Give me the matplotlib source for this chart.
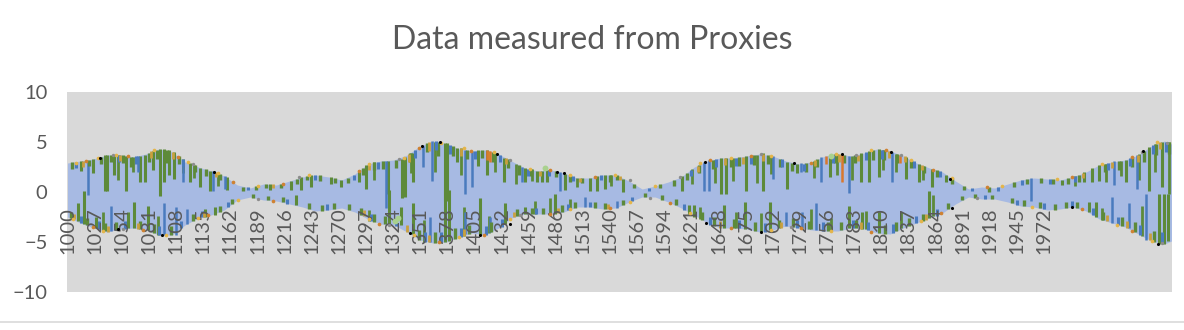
import matplotlib
matplotlib.use("Agg")
import matplotlib.pyplot as plt
from matplotlib.lines import Line2D

plt.rcParams['font.family'] = ['Lato', 'DejaVu Sans']

# envelope of all proxy series (upper / lower)
env_year = [1000, 1013, 1026, 1039, 1052, 1065, 1078, 1091, 1104, 1117, 1130, 1143,
            1156, 1169, 1182, 1195, 1208, 1221, 1234, 1247, 1260, 1273, 1286, 1299,
            1312, 1325, 1338, 1351, 1364, 1377, 1390, 1403, 1416, 1429, 1442, 1455,
            1468, 1481, 1494, 1507, 1520, 1533, 1546, 1559, 1572, 1585, 1598, 1611,
            1624, 1637, 1650, 1663, 1676, 1689, 1702, 1715, 1728, 1741, 1754, 1767,
            1780, 1793, 1806, 1819, 1832, 1845, 1858, 1871, 1884, 1897, 1910, 1923,
            1936, 1949, 1962, 1975, 1988, 2001, 2014, 2027, 2040, 2053, 2066, 2079,
            2092, 2099]
env_upper = [2.9, 3.1, 3.3, 3.7, 3.7, 3.5, 3.8, 4.3, 4.0, 3.0, 2.5, 2.1,
             1.6, 0.7, 0.4, 0.8, 0.7, 1.1, 1.5, 1.7, 1.5, 1.2, 1.8, 2.8,
             3.1, 3.2, 3.7, 4.6, 5.1, 4.8, 4.3, 4.1, 4.2, 3.8, 3.1, 2.4,
             2.1, 2.2, 1.9, 1.4, 1.4, 1.7, 1.7, 1.1, 0.3, 0.6, 1.0, 1.5,
             2.5, 3.1, 3.4, 3.4, 3.6, 3.8, 3.6, 3.1, 2.8, 3.0, 3.6, 3.8,
             3.6, 3.9, 4.3, 4.1, 3.6, 2.9, 2.4, 2.0, 1.1, 0.3, 0.5, 0.4,
             0.8, 1.2, 1.4, 1.3, 1.2, 1.5, 2.0, 2.7, 3.0, 3.2, 3.7, 4.6,
             5.1, 4.8]
env_lower = [-2.5, -3.1, -3.6, -4.0, -3.7, -3.6, -3.8, -4.3, -4.3, -3.3, -2.6, -2.3,
             -1.8, -0.8, -0.5, -0.8, -0.9, -1.2, -1.5, -1.9, -1.8, -1.6, -2.0, -2.7,
             -3.2, -3.3, -4.0, -4.8, -5.1, -5.0, -4.5, -4.1, -4.3, -3.6, -2.6, -2.2,
             -2.2, -2.2, -2.0, -1.5, -1.5, -1.7, -1.6, -1.0, -0.5, -0.5, -1.0, -1.6,
             -2.3, -3.1, -3.6, -3.6, -3.7, -4.0, -3.8, -3.4, -3.6, -3.8, -3.9, -3.9,
             -3.6, -3.7, -4.1, -4.2, -3.6, -3.1, -2.6, -2.1, -1.2, -0.5, -0.7, -0.7,
             -1.0, -1.4, -1.5, -1.8, -1.7, -1.5, -1.9, -2.7, -3.1, -3.5, -4.2, -4.9,
             -5.2, -4.9]

# long green proxy streaks: year, from, to
green_x = [1013, 1025, 1037, 1039, 1046, 1058, 1072, 1077, 1085, 1092, 1096, 1101,
           1106, 1122, 1132, 1142, 1159, 1202, 1222, 1232, 1242, 1262, 1272, 1290,
           1297, 1319, 1333, 1336, 1344, 1376, 1378, 1388, 1409, 1418, 1435, 1455,
           1467, 1472, 1477, 1495, 1520, 1527, 1535, 1553, 1612, 1651, 1656, 1675,
           1692, 1716, 1726, 1759, 1790, 1798, 1808, 1835, 1848, 1861, 1875, 1990,
           2012, 2020, 2027, 2054, 2077, 2090,
           1010, 1016, 1028, 1060, 1066, 1080, 1137, 1147, 1227, 1320, 1332, 1344,
           1376, 1380, 1411, 1436, 1455, 1485, 1619, 1624, 1654, 1674, 1699, 1778,
           1791, 1808, 1858, 2017, 2024, 2087, 2092, 2096]
green_lo = [2.1, 1.9, 0.1, 0.1, 1.7, 0.1, 1.0, 1.0, 2.2, -0.4, 1.0, 1.7,
            1.3, 1.0, 0.5, 0.1, 0.2, 0.2, 0.2, 0.2, 0.5, 0.8, 0.5, 1.0,
            0.3, -0.2, -0.6, -0.5, 1.0, -0.9, -0.9, 3.0, 2.6, 1.7, 1.0, 1.0,
            1.0, 1.0, 1.0, 0.2, 0.1, 0.1, 0.3, 0.0, 0.1, -0.2, -0.2, 0.1,
            0.1, 0.3, 1.9, 1.5, 1.0, 1.0, 1.5, 1.3, 1.0, 0.5, 1.0, 0.7,
            1.0, 1.0, 1.1, 1.0, 0.1, 0.5,
            -2.9, -3.2, -3.6, -3.6, -3.6, -3.8, -2.5, -2.3, -1.3, -3.3, -3.3, -4.2,
            -5.0, -4.9, -4.3, -3.2, -2.2, -2.2, -2.2, -2.5, -3.6, -3.7, -3.8, -3.6,
            -3.7, -4.1, -2.6, -2.0, -2.5, -5.2, -5.2, -4.9]
green_hi = [3.1, 3.3, 3.7, 3.7, 3.7, 3.6, 3.6, 3.7, 4.1, 4.3, 4.3, 4.2,
            4.0, 2.9, 2.4, 2.1, 1.5, 0.8, 1.1, 1.5, 1.7, 1.5, 1.2, 2.2,
            2.7, 3.1, 3.3, 3.5, 3.9, 4.9, 4.9, 4.4, 4.2, 4.2, 3.4, 2.4,
            2.1, 2.1, 2.2, 1.8, 1.4, 1.6, 1.7, 1.3, 1.6, 3.4, 3.4, 3.6,
            3.9, 3.0, 2.8, 3.7, 3.9, 4.1, 4.3, 3.5, 2.8, 2.3, 1.7, 1.2,
            2.0, 2.4, 2.7, 3.2, 4.5, 5.0,
            -1.1, 0.1, -2.5, -2.0, -1.0, -1.4, -1.7, -1.5, -0.3, 0.2, -1.5, -1.1,
            0.2, 0.2, -0.6, -1.1, -1.5, -0.2, -1.3, -1.3, -1.3, -1.0, -1.0, -1.4,
            -2.0, -2.0, 0.1, -1.0, -1.0, -0.2, -0.2, -0.2]

# more green streaks, (year, from, to)
green_more = [(1050, 3.7, 1.2), (1065, 3.5, 2.0), (1115, 3.3, 1.9), (1126, 2.7, 1.4),
              (1150, 1.9, 0.6), (1305, 3.0, 1.2), (1342, 3.9, 1.9), (1366, 5.0, 2.0),
              (1392, 4.4, 1.7), (1426, 3.9, 2.0), (1446, 2.8, 0.8), (1462, 2.3, 1.1),
              (1507, 1.4, 0.5), (1541, 1.7, 0.6), (1622, 2.3, 0.8), (1645, 3.2, 0.9),
              (1662, 3.4, 1.1), (1686, 3.7, 0.9), (1700, 3.6, 1.8), (1743, 3.1, 1.4),
              (1766, 3.8, 1.7), (1781, 3.6, 1.2), (1812, 4.2, 2.2), (1825, 3.8, 2.0),
              (1852, 2.6, 1.2), (2003, 1.6, 0.6), (2034, 2.8, 1.0), (2049, 3.1, 1.6),
              (2067, 3.8, 1.2), (2083, 4.8, 2.0), (2097, 5.0, -0.2),
              (1035, -3.9, -2.0), (1090, -4.3, -2.4), (1300, -2.9, -1.8), (1355, -5.0, -2.8),
              (1395, -4.4, -1.5), (1420, -4.1, -2.4), (1465, -2.2, -0.9), (1480, -2.2, -0.6),
              (1500, -1.8, -0.7), (1630, -2.7, -1.5), (1665, -3.6, -2.0), (1690, -4.0, -2.1),
              (1740, -3.7, -1.7), (1760, -3.9, -2.6), (1795, -3.7, -1.9), (1830, -3.6, -2.0),
              (1862, -2.4, -0.3), (2030, -2.8, -1.6), (2070, -4.4, -1.4)]

# short green streaks hanging on the edges
green_edge = [(1004, 3.0, 2.3), (1021, 3.2, 2.6), (1033, 3.5, 2.8), (1043, 3.7, 3.0),
              (1055, 3.7, 2.9), (1063, 3.5, 2.5), (1081, 3.9, 3.0), (1089, 4.2, 3.3),
              (1099, 4.2, 2.9), (1111, 3.6, 2.8), (1127, 2.7, 2.0), (1138, 2.3, 1.6),
              (1152, 1.8, 1.2), (1175, 0.5, 0.1), (1188, 0.6, 0.2), (1198, 0.8, 0.4),
              (1213, 0.8, 0.4), (1228, 1.3, 0.8), (1238, 1.6, 1.2), (1251, 1.7, 1.1),
              (1266, 1.4, 0.9), (1279, 1.4, 0.9), (1294, 2.4, 1.7), (1305, 3.0, 2.2),
              (1314, 3.1, 2.3), (1327, 3.2, 2.4), (1341, 3.9, 3.0), (1358, 4.9, 4.0),
              (1369, 5.0, 3.6), (1384, 4.6, 3.6), (1398, 4.2, 3.3), (1413, 4.2, 3.4),
              (1424, 4.0, 3.0), (1439, 3.3, 2.4), (1449, 2.7, 1.7), (1461, 2.3, 1.6),
              (1486, 2.1, 1.5), (1500, 1.7, 1.0), (1512, 1.4, 0.9), (1540, 1.7, 1.0),
              (1547, 1.7, 1.2), (1564, 0.8, 0.4), (1590, 0.8, 0.4), (1604, 1.2, 0.6),
              (1617, 1.9, 1.2), (1629, 2.7, 1.9), (1643, 3.2, 2.3), (1660, 3.4, 2.5),
              (1668, 3.5, 2.6), (1683, 3.7, 2.7), (1697, 3.7, 2.8), (1709, 3.3, 2.5),
              (1721, 2.9, 2.1), (1735, 2.9, 2.0), (1746, 3.3, 2.5), (1764, 3.8, 2.9),
              (1773, 3.7, 2.9), (1784, 3.7, 2.9), (1802, 4.2, 3.2), (1813, 4.2, 3.2),
              (1826, 3.8, 2.9), (1840, 3.2, 2.4), (1853, 2.6, 1.9), (1866, 2.2, 1.5),
              (1880, 1.4, 0.8), (1892, 0.6, 0.2), (1917, 0.5, 0.0), (1942, 1.0, 0.5),
              (1955, 1.3, 0.8), (1969, 1.4, 0.9), (1981, 1.3, 0.8), (1996, 1.4, 0.8),
              (2007, 1.7, 1.0), (2033, 2.8, 2.0), (2047, 3.1, 2.2), (2060, 3.5, 2.5),
              (2072, 4.1, 3.0), (2084, 4.8, 3.7), (2097, 5.0, 3.8),
              (1003, -2.6, -2.0), (1019, -3.3, -2.6), (1037, -3.9, -3.1), (1048, -3.8, -3.0),
              (1072, -3.7, -2.9), (1086, -4.1, -3.2), (1103, -4.3, -3.4), (1125, -2.9, -2.2),
              (1152, -2.0, -1.4), (1164, -1.2, -0.7), (1185, -0.6, -0.2), (1200, -0.8, -0.4),
              (1215, -1.0, -0.5), (1240, -1.7, -1.1), (1253, -1.9, -1.3), (1265, -1.7, -1.1),
              (1280, -1.8, -1.2), (1292, -2.3, -1.6), (1305, -3.0, -2.2), (1316, -3.2, -2.4),
              (1350, -4.8, -3.8), (1366, -5.1, -4.0), (1386, -4.7, -3.6), (1400, -4.2, -3.3),
              (1422, -4.0, -3.0), (1447, -2.4, -1.7), (1462, -2.2, -1.6), (1473, -2.2, -1.6),
              (1492, -2.0, -1.3), (1505, -1.6, -1.0), (1525, -1.6, -1.0), (1535, -1.7, -1.1),
              (1553, -1.3, -0.8), (1575, -0.5, -0.1), (1592, -0.8, -0.3), (1606, -1.3, -0.7),
              (1632, -2.8, -2.0), (1644, -3.4, -2.5), (1663, -3.6, -2.7), (1684, -3.9, -3.0),
              (1708, -3.6, -2.8), (1722, -3.5, -2.6), (1738, -3.7, -2.9), (1757, -3.9, -3.0),
              (1770, -3.8, -3.0), (1785, -3.6, -2.8), (1814, -4.2, -3.3), (1825, -3.9, -3.0),
              (1838, -3.4, -2.6), (1852, -2.9, -2.2), (1877, -1.7, -1.1), (1890, -0.8, -0.4),
              (1903, -0.6, -0.2), (1920, -0.7, -0.3), (1940, -1.1, -0.6), (1952, -1.4, -0.8),
              (1968, -1.6, -1.0), (1983, -1.8, -1.2), (1994, -1.6, -1.0), (2005, -1.6, -1.0),
              (2031, -2.8, -2.0), (2050, -3.4, -2.5), (2063, -4.0, -3.0), (2082, -5.0, -3.9)]

# long dark blue proxy streaks
blue_x = [1020, 1070, 1115, 1145, 1157, 1317, 1354, 1363, 1396, 1403, 1452, 1490,
          1634, 1639, 1702, 1730, 1750, 1778, 1821, 1959, 2042, 2065,
          1043, 1096, 1108, 1119, 1361, 1396, 1421, 1515, 1547, 1715, 1731, 1745,
          2040, 2057, 2074]
blue_lo = [-0.3, 2.0, 1.0, 0.1, 0.3, -1.6, 2.5, 1.1, -0.2, 0.5, 1.0, 0.1,
           0.1, 0.1, 1.3, 2.0, 1.0, -0.1, 1.0, -0.9, 0.7, 0.3,
           -3.9, -4.3, -4.3, -3.2, -5.0, -4.2, -4.0, -1.5, -1.6, -3.4, -3.6, -3.8,
           -3.1, -3.6, -4.8]
blue_hi = [3.1, 3.6, 3.2, 2.1, 1.6, 3.1, 4.6, 5.1, 4.2, 4.1, 2.5, 2.0,
           3.0, 3.2, 3.6, 2.9, 3.5, 3.6, 4.0, 1.4, 3.1, 3.7,
           -1.4, -1.1, -1.5, -1.7, -2.5, -2.0, -2.5, -0.5, -0.9, -2.0, -2.0, -1.1,
           -0.5, -1.1, -0.2]

# short dark blue streaks on the edges
blue_edge = [(1008, 3.0, 2.4), (1051, 3.7, 3.0), (1068, 3.6, 2.8), (1115, 3.3, 2.6),
             (1180, 0.5, 0.2), (1246, 1.7, 1.2), (1285, 1.7, 1.2), (1309, 3.0, 2.3),
             (1346, 4.2, 3.4), (1367, 5.1, 4.2), (1381, 4.7, 3.8), (1406, 4.1, 3.3),
             (1431, 3.7, 3.0), (1458, 2.3, 1.6), (1479, 2.2, 1.6), (1503, 1.6, 1.1),
             (1531, 1.7, 1.2), (1579, 0.4, 0.1), (1621, 2.2, 1.6), (1646, 3.3, 2.5),
             (1665, 3.4, 2.6), (1680, 3.6, 2.8), (1711, 3.3, 2.5), (1733, 2.8, 2.1),
             (1762, 3.7, 2.9), (1795, 4.0, 3.2), (1811, 4.2, 3.3), (1843, 3.1, 2.4),
             (1869, 2.1, 1.5), (1900, 0.4, 0.1), (1926, 0.5, 0.1), (1950, 1.2, 0.7),
             (1978, 1.3, 0.8), (2003, 1.6, 1.0), (2036, 2.9, 2.2), (2058, 3.4, 2.6),
             (2081, 4.7, 3.8), (2094, 5.0, 4.0),
             (1013, -3.1, -2.4), (1031, -3.7, -2.9), (1057, -3.7, -2.9), (1091, -4.3, -3.4),
             (1113, -3.6, -2.9), (1134, -2.5, -1.9), (1160, -1.5, -1.0), (1219, -1.2, -0.7),
             (1258, -1.8, -1.2), (1302, -2.9, -2.2), (1327, -3.4, -2.6), (1356, -5.0, -4.0),
             (1372, -5.0, -4.0), (1392, -4.5, -3.6), (1417, -4.3, -3.4), (1433, -3.5, -2.7),
             (1466, -2.2, -1.6), (1498, -1.8, -1.2), (1520, -1.5, -1.0), (1562, -0.9, -0.5),
             (1614, -1.8, -1.2), (1640, -3.3, -2.5), (1668, -3.6, -2.8), (1694, -4.0, -3.1),
             (1726, -3.6, -2.8), (1752, -3.9, -3.0), (1782, -3.6, -2.8), (1797, -3.8, -3.0),
             (1822, -4.1, -3.2), (1845, -3.1, -2.4), (1866, -2.4, -1.7), (1913, -0.7, -0.3),
             (1945, -1.3, -0.8), (1972, -1.7, -1.1), (2000, -1.5, -0.9), (2021, -2.3, -1.6),
             (2046, -3.3, -2.5), (2068, -4.3, -3.3), (2090, -5.1, -4.0)]

# mustard / yellow short streaks on the edges
mustard_edge = [(1015, 3.1, 2.5), (1052, 3.7, 3.1), (1083, 4.1, 3.4), (1105, 4.0, 3.3),
                (1148, 2.0, 1.5), (1205, 0.8, 0.4), (1300, 2.8, 2.2), (1340, 3.8, 3.0),
                (1360, 5.0, 4.1), (1392, 4.4, 3.6), (1420, 4.1, 3.2), (1437, 3.4, 2.8),
                (1470, 2.1, 1.6), (1510, 1.4, 1.0), (1550, 1.6, 1.2), (1628, 2.6, 2.0),
                (1655, 3.4, 2.7), (1672, 3.5, 2.8), (1692, 3.8, 3.1), (1744, 3.2, 2.6),
                (1768, 3.8, 3.0), (1787, 3.7, 3.1), (1818, 4.1, 3.4), (1834, 3.6, 3.0),
                (1851, 2.7, 2.2), (2011, 1.9, 1.4), (2040, 3.0, 2.4), (2066, 3.7, 3.0),
                (2088, 5.0, 4.3),
                (1006, -2.7, -2.2), (1040, -4.0, -3.4), (1070, -3.7, -3.1), (1136, -2.5, -2.0),
                (1295, -2.4, -1.8), (1338, -4.0, -3.3), (1360, -5.0, -4.3), (1395, -4.4, -3.7),
                (1444, -2.5, -2.0), (1488, -2.1, -1.6), (1538, -1.7, -1.2), (1650, -3.6, -2.9),
                (1710, -3.6, -3.0), (1790, -3.7, -3.0), (1855, -2.8, -2.2), (2035, -2.9, -2.3),
                (2055, -3.6, -2.9), (2078, -4.8, -4.1)]

# orange proxy streaks
orange_x = [1421, 1755, 1771, 1418, 1829]
orange_lo = [3.0, 2.8, 1.0, 3.2, 2.9]
orange_hi = [4.1, 3.6, 3.8, 4.2, 3.7]

# specks sitting on the edges of the band
yellow_x = [1008, 1030, 1048, 1086, 1120, 1150, 1190, 1240, 1300, 1335, 1372, 1395,
            1425, 1460, 1500, 1545, 1585, 1630, 1660, 1700, 1765, 1800, 1840, 1880,
            1930, 1985, 2030, 2085,
            1005, 1035, 1098, 1130, 1170, 1300, 1345, 1390, 1440, 1500, 1560, 1620,
            1700, 1760, 1850, 1960, 2045, 2080]
yellow_y = [2.9, 3.4, 3.7, 4.2, 3.0, 1.9, 0.6, 1.7, 2.8, 3.4, 4.9, 4.4,
            4.0, 2.3, 1.7, 1.7, 0.6, 2.9, 3.4, 3.6, 3.8, 4.2, 3.2, 1.4,
            0.6, 1.3, 2.8, 5.0,
            -2.7, -3.9, -4.3, -2.6, -0.8, -2.7, -4.3, -4.5, -2.7, -1.7, -1.0, -2.1,
            -3.8, -3.9, -2.9, -1.5, -3.3, -4.9]
orange_dot_x = [1018, 1060, 1110, 1165, 1215, 1290, 1350, 1402, 1480, 1525, 1640, 1680,
                1740, 1815, 1862, 1915, 2000, 2060,
                1025, 1075, 1140, 1205, 1310, 1370, 1415, 1480, 1540, 1600, 1660, 1730,
                1800, 1870, 2010, 2060]
orange_dot_y = [3.1, 3.6, 3.5, 1.0, 0.8, 2.1, 4.4, 4.1, 2.2, 1.5, 3.2, 3.6,
                2.9, 4.2, 2.2, 0.5, 1.5, 3.5,
                -3.5, -3.8, -2.3, -0.9, -3.2, -5.0, -4.3, -2.2, -1.6, -1.1, -3.6, -3.6,
                -4.0, -2.1, -1.7, -3.9]
gray_x = [1045, 1125, 1230, 1330, 1440, 1560, 1610, 1690, 1785, 1830, 2070, 2095,
          1055, 1190, 1320, 1450, 1580, 1720, 1905, 2090]
gray_y = [3.7, 2.8, 1.5, 3.3, 3.2, 1.2, 1.5, 3.8, 3.7, 3.7, 4.0, 4.9,
          -3.7, -0.7, -3.3, -2.3, -0.6, -3.5, -0.6, -5.1]
black_x = [1032, 1146, 1353, 1371, 1428, 1487, 1494, 1635, 1723, 1771, 1820, 1879, 2071,
           1050, 1094, 1341, 1411, 1440, 1636, 1690, 1880, 2000, 2086]
black_y = [3.4, 2.0, 4.6, 5.0, 3.8, 2.0, 1.9, 3.0, 2.9, 3.8, 4.0, 1.3, 4.1,
           -3.7, -4.3, -4.1, -4.3, -3.2, -3.1, -4.0, -1.6, -1.5, -5.2]
pale_x = [1326, 1329, 1475, 1760]
pale_y = [-2.9, -2.6, 2.4, 3.6]

tick_years = list(range(1000, 1973, 27))

GREEN = "#5D8A3A"
BLUE = "#4A7BBE"


def streaks(ax, rows, color, lw):
    xs, a, b = zip(*rows)
    ax.vlines(xs, a, b, colors=color, lw=lw, zorder=2)


fig = plt.figure(figsize=(11.84, 3.30), dpi=100)
ax = fig.add_axes([67 / 1184, 1 - 292 / 330, (1172 - 67) / 1184, 200 / 330])
ax.set_facecolor("#D9D9D9")

ax.fill_between(env_year, env_lower, env_upper, color="#A7BAE3", lw=0, zorder=1)
ax.vlines(green_x, green_lo, green_hi, colors=GREEN, lw=2.2, zorder=2)
streaks(ax, green_more, GREEN, 2.0)
ax.vlines(blue_x, blue_lo, blue_hi, colors=BLUE, lw=1.8, zorder=2)
streaks(ax, green_edge, GREEN, 2.4)
streaks(ax, blue_edge, BLUE, 2.2)
streaks(ax, mustard_edge, "#C9A03E", 2.0)
ax.vlines(orange_x, orange_lo, orange_hi, colors="#D9782D", lw=1.8, zorder=2)

ax.scatter(yellow_x, yellow_y, s=7, color="#E4B54A", lw=0, zorder=3)
ax.scatter(orange_dot_x, orange_dot_y, s=7, color="#CF8232", lw=0, zorder=3)
ax.scatter(gray_x, gray_y, s=6, color="#8C8C8C", lw=0, zorder=3)
ax.scatter(pale_x, pale_y, s=18, color="#A9D18E", lw=0, zorder=3)
ax.scatter(black_x, black_y, s=5, color="black", lw=0, zorder=3)

ax.set_xlim(999.5, 2099.5)
ax.set_ylim(-10, 10)
ax.set_yticks([-10, -5, 0, 5, 10])
ax.tick_params(axis="y", length=0, pad=14, labelsize=14.5, labelcolor="#595959")

for s in ["top", "right", "left"]:
    ax.spines[s].set_visible(False)
ax.spines["bottom"].set_position(("data", 0))
ax.spines["bottom"].set_visible(False)
ax.set_xticks(tick_years)
ax.set_xticklabels([str(y) for y in tick_years])
ax.tick_params(axis="x", length=0, pad=11, labelsize=14.5, labelcolor="#595959",
               labelrotation=90)
ax.set_axisbelow(False)

fig.text(0.5, 1 - 40 / 330, "Data measured from Proxies", ha="center", va="center",
         fontsize=23, color="#595959")
fig.add_artist(Line2D([0, 1], [1 - 322 / 330] * 2, color="#D9D9D9", lw=1.2))

fig.savefig("out.png", dpi=100)
